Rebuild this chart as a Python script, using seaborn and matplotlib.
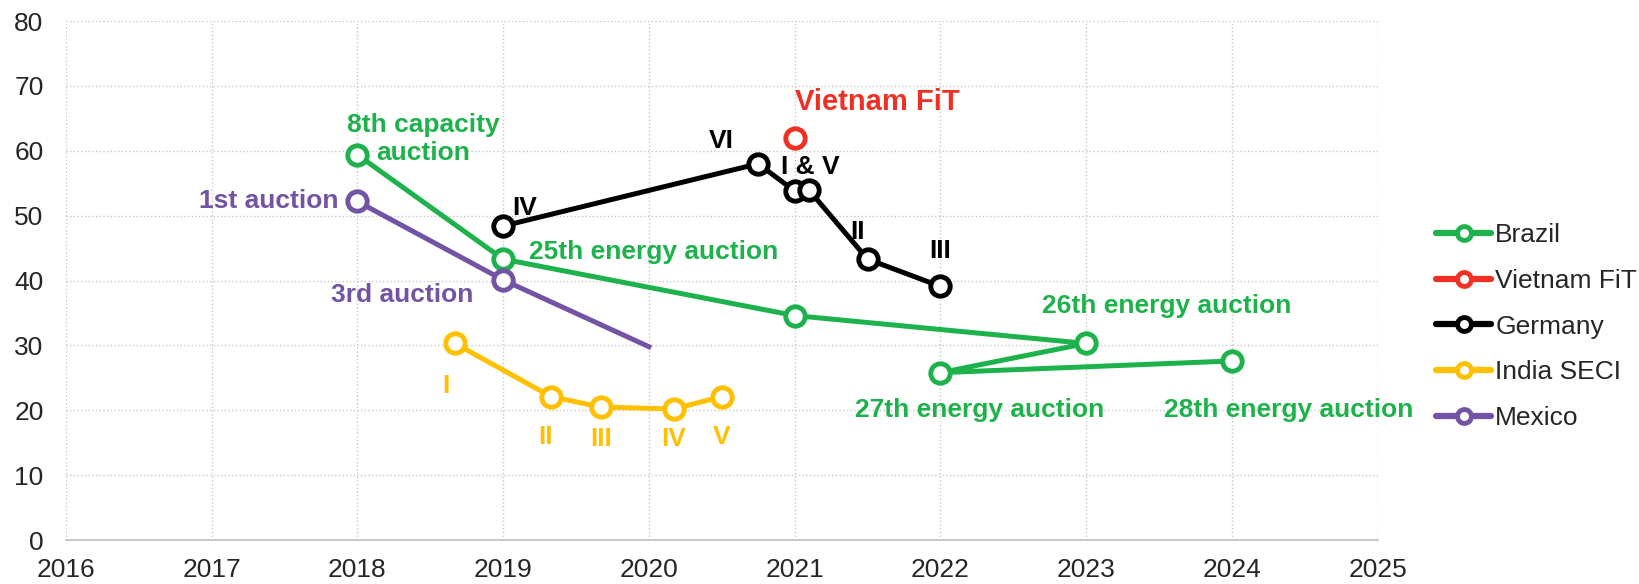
import pandas as pd
import seaborn as sns
import matplotlib.pyplot as plt
from matplotlib.lines import Line2D

# data
brazil_x = [2018.0, 2019.0, 2021.0, 2023.0, 2022.0, 2024.0]
brazil_y = [59.4, 43.3, 34.6, 30.3, 25.8, 27.6]

vietnam_x = [2021.0]
vietnam_y = [62.0]

germany_x = [2019.0, 2020.75, 2021.0, 2021.1, 2021.5, 2022.0]
germany_y = [48.4, 58.0, 53.8, 53.9, 43.3, 39.1]

india_x = [2018.67, 2019.33, 2019.67, 2020.17, 2020.5]
india_y = [30.3, 22.1, 20.5, 20.2, 22.1]

mexico_x = [2018.0, 2019.0, 2020.0]
mexico_y = [52.2, 40.1, 29.8]

years = list(range(2016, 2026))

green = "#1db24b"
red = "#ee3124"
black = "#000000"
yellow = "#ffc000"
purple = "#7353a3"

sns.set_style("white")
plt.rcParams["font.family"] = ["Liberation Sans", "DejaVu Sans"]

fig = plt.figure(figsize=(16.39, 5.84), dpi=100)
ax = fig.add_axes([0.0401, 0.0753, 0.8005, 0.8887])

series = [
    ("Brazil", brazil_x, brazil_y, green, None),
    ("Vietnam FiT", vietnam_x, vietnam_y, red, None),
    ("Germany", germany_x, germany_y, black, None),
    ("India SECI", india_x, india_y, yellow, None),
    ("Mexico", mexico_x, mexico_y, purple, [0, 1]),
]

handles = []
for name, xs, ys, col, mev in series:
    df = pd.DataFrame({"x": xs, "y": ys})
    sns.lineplot(
        data=df, x="x", y="y", ax=ax, sort=False, estimator=None,
        color=col, lw=3.6, marker="o", ms=14, mew=3.5, mfc="white",
        mec=col, markevery=mev, zorder=3, legend=False,
        solid_capstyle="projecting",
    )
    handles.append(Line2D([], [], color=col, lw=4.5, marker="o", ms=10,
                          mew=3.5, mfc="white", mec=col, label=name))

# annotations
def note(x, y, s, col, ha="center", size=19):
    ax.text(x, y, s, color=col, ha=ha, va="center", fontsize=size,
            fontweight="bold", zorder=4)

note(2018.45, 61.8, "8th capacity\nauction", green)
note(2017.87, 52.2, "1st auction", purple, ha="right")
note(2019.18, 44.4, "25th energy auction", green, ha="left")
note(2018.31, 37.8, "3rd auction", purple)
note(2019.06, 51.2, "IV", black, ha="left")
note(2020.50, 61.5, "VI", black)
note(2021.11, 57.5, "I & V", black)
note(2021.43, 47.5, "II", black)
note(2022.0, 44.6, "III", black)
note(2021.57, 67.5, "Vietnam FiT", red, size=21)
note(2023.55, 36.1, "26th energy auction", green)
note(2022.27, 20.1, "27th energy auction", green)
note(2024.39, 20.1, "28th energy auction", green)
note(2018.61, 23.7, "I", yellow)
note(2019.29, 15.9, "II", yellow)
note(2019.67, 15.5, "III", yellow)
note(2020.17, 15.5, "IV", yellow)
note(2020.50, 15.9, "V", yellow)

ax.set_xlim(2016, 2025)
ax.set_ylim(0, 80)
ax.set_xticks(years)
ax.set_yticks(range(0, 81, 10))
ax.tick_params(axis="x", labelsize=19, length=5, color="#bfbfbf", pad=8)
ax.tick_params(axis="y", labelsize=19, length=0, pad=16)
ax.grid(True, color="#c8c8c8", ls=":", lw=1.0, zorder=0)
ax.set_axisbelow(True)
ax.set_xlabel("")
ax.set_ylabel("")
for s in ["top", "right", "left"]:
    ax.spines[s].set_visible(False)
ax.spines["bottom"].set_color("#bfbfbf")
ax.spines["bottom"].set_linewidth(1.2)

ax.legend(
    handles=handles,
    loc="upper left", bbox_to_anchor=(0.868, 0.64), bbox_transform=fig.transFigure,
    frameon=False, fontsize=19, handlelength=2.1, handletextpad=0.15,
    labelspacing=0.82, borderpad=0,
)

fig.savefig("out.png", dpi=100)
